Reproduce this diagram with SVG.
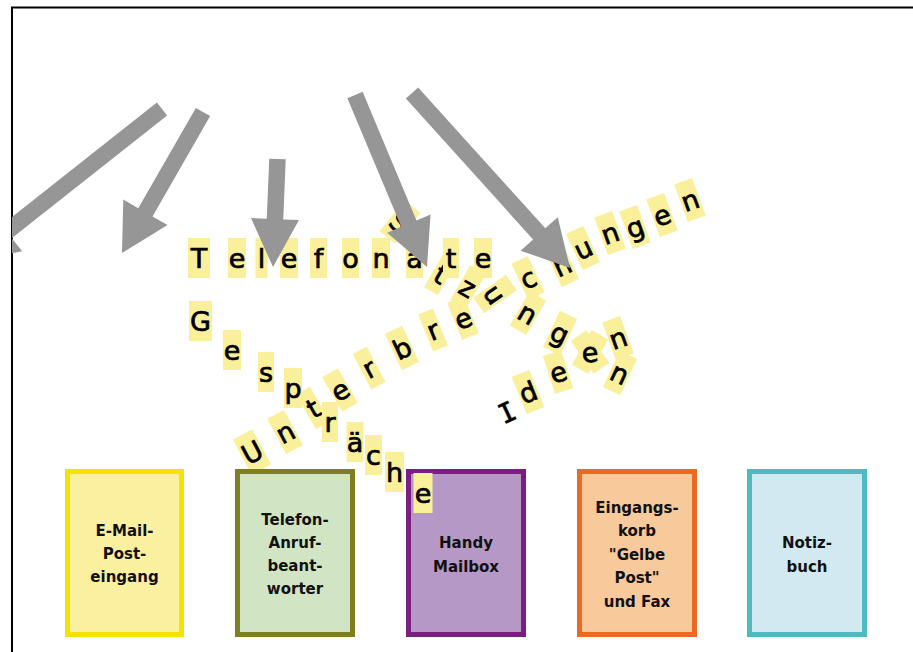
<svg xmlns="http://www.w3.org/2000/svg" width="913" height="652" viewBox="0 0 913 652">
<style>
.tile{fill:#faf09c}
.ch{font-family:"DejaVu Sans",sans-serif;font-size:27px;fill:#000;stroke:#000;stroke-width:0.7;text-anchor:middle}
.arrow{fill:#969696}
.lbl{font-family:"DejaVu Sans",sans-serif;font-weight:bold;font-size:15px;text-anchor:middle;fill:#111}
</style>
<defs>
<clipPath id="frameClip"><rect x="12" y="7" width="901" height="645"/></clipPath>
</defs>
<rect x="0" y="0" width="913" height="652" fill="#fff"/>

<!-- frame -->
<g id="frame" stroke="#000" stroke-width="2" fill="none">
<line x1="11" y1="7.5" x2="913" y2="7.5"/>
<line x1="12" y1="7" x2="12" y2="652"/>
</g>

<!-- word: Unterbrechungen -->
<g id="word-unterbrechungen">
<g transform="translate(252,452) rotate(-28)"><rect class="tile" x="-11" y="-20" width="22" height="40"/><text class="ch" y="10">U</text></g>
<g transform="translate(285,432) rotate(-28)"><rect class="tile" x="-9.5" y="-20" width="19" height="40"/><text class="ch" y="10">n</text></g>
<g transform="translate(313,408) rotate(-30)"><rect class="tile" x="-8" y="-20" width="16" height="40"/><text class="ch" y="10">t</text></g>
<g transform="translate(340,390) rotate(-30)"><rect class="tile" x="-9" y="-20" width="18" height="40"/><text class="ch" y="10">e</text></g>
<g transform="translate(369,368) rotate(-28)"><rect class="tile" x="-8" y="-20" width="16" height="40"/><text class="ch" y="10">r</text></g>
<g transform="translate(402,348) rotate(-25)"><rect class="tile" x="-9.5" y="-20" width="19" height="40"/><text class="ch" y="10">b</text></g>
<g transform="translate(433,330) rotate(-22)"><rect class="tile" x="-8" y="-20" width="16" height="40"/><text class="ch" y="10">r</text></g>
<g transform="translate(463,318) rotate(-22)"><rect class="tile" x="-9" y="-20" width="18" height="40"/><text class="ch" y="10">e</text></g>
<g transform="translate(528,278) rotate(-25)"><rect class="tile" x="-9" y="-20" width="18" height="40"/><text class="ch" y="10">c</text></g>
<g transform="translate(562,265) rotate(-25)"><rect class="tile" x="-9.5" y="-20" width="19" height="40"/><text class="ch" y="10">h</text></g>
<g transform="translate(583,248) rotate(-25)"><rect class="tile" x="-9.5" y="-20" width="19" height="40"/><text class="ch" y="10">u</text></g>
<g transform="translate(610,233) rotate(-20)"><rect class="tile" x="-9.5" y="-20" width="19" height="40"/><text class="ch" y="10">n</text></g>
<g transform="translate(635,227) rotate(-20)"><rect class="tile" x="-9.5" y="-20" width="19" height="40"/><text class="ch" y="10">g</text></g>
<g transform="translate(662,215) rotate(-20)"><rect class="tile" x="-9.5" y="-20" width="19" height="40"/><text class="ch" y="10">e</text></g>
<g transform="translate(690,200) rotate(-20)"><rect class="tile" x="-9.5" y="-20" width="19" height="40"/><text class="ch" y="10">n</text></g>
</g>

<!-- word: Gespräche -->
<g id="word-gespraeche">
<g transform="translate(200.5,321)"><rect class="tile" x="-11.5" y="-20" width="23" height="40"/><text class="ch" y="10">G</text></g>
<g transform="translate(232,350)"><rect class="tile" x="-9" y="-20" width="18" height="40"/><text class="ch" y="10">e</text></g>
<g transform="translate(266,372)"><rect class="tile" x="-8" y="-20" width="16" height="40"/><text class="ch" y="10">s</text></g>
<g transform="translate(293,388)"><rect class="tile" x="-9" y="-20" width="18" height="40"/><text class="ch" y="10">p</text></g>
<g transform="translate(330,422)"><rect class="tile" x="-8" y="-20" width="16" height="40"/><text class="ch" y="10">r</text></g>
<g transform="translate(355,442)"><rect class="tile" x="-8.5" y="-20" width="17" height="40"/><text class="ch" y="10">ä</text></g>
<g transform="translate(373.5,455)"><rect class="tile" x="-8.5" y="-20" width="17" height="40"/><text class="ch" y="10">c</text></g>
<g transform="translate(394.5,472)"><rect class="tile" x="-9.5" y="-20" width="19" height="40"/><text class="ch" y="10">h</text></g>
</g>

<!-- word: Sitzungen -->
<g id="word-sitzungen">
<g transform="translate(400,222) rotate(40)"><rect class="tile" x="-10" y="-20" width="20" height="40"/><text class="ch" y="10">S</text></g>
<g transform="translate(441,274) rotate(30)"><rect class="tile" x="-8" y="-20" width="16" height="40"/><text class="ch" y="10">t</text></g>
<g transform="translate(468,287) rotate(30)"><rect class="tile" x="-9" y="-20" width="18" height="40"/><text class="ch" y="10">z</text></g>
<g transform="translate(495,294) rotate(55)"><rect class="tile" x="-9.5" y="-20" width="19" height="40"/><text class="ch" y="10">u</text></g>
<g transform="translate(528,313) rotate(30)"><rect class="tile" x="-9.5" y="-20" width="19" height="40"/><text class="ch" y="10">n</text></g>
<g transform="translate(560,333) rotate(25)"><rect class="tile" x="-9.5" y="-20" width="19" height="40"/><text class="ch" y="10">g</text></g>
<g transform="translate(590,352) rotate(30)"><rect class="tile" x="-9.5" y="-20" width="19" height="40"/></g>
<g transform="translate(618,338) rotate(-20)"><rect class="tile" x="-9.5" y="-20" width="19" height="40"/><text class="ch" y="10">n</text></g>
</g>

<!-- word: Ideen -->
<g id="word-ideen">
<g transform="translate(507,412) rotate(-25)"><text class="ch" y="10" style="font-family:'DejaVu Sans Mono',monospace">I</text></g>
<g transform="translate(528,392) rotate(-22)"><rect class="tile" x="-9.5" y="-20" width="19" height="40"/><text class="ch" y="10">d</text></g>
<g transform="translate(558,372) rotate(-18)"><rect class="tile" x="-9.5" y="-20" width="19" height="40"/><text class="ch" y="10">e</text></g>
<g transform="translate(590,352) rotate(-35)"><rect class="tile" x="-9.5" y="-20" width="19" height="40"/></g>
<g transform="translate(590,352) rotate(-5)"><text class="ch" y="10">e</text></g>
<g transform="translate(620,373) rotate(25)"><rect class="tile" x="-9.5" y="-20" width="19" height="40"/><text class="ch" y="10">n</text></g>
</g>

<!-- word: Telefonate -->
<g id="word-telefonate">
<g transform="translate(199,258)"><rect class="tile" x="-11" y="-20" width="22" height="40"/><text class="ch" y="10">T</text></g>
<g transform="translate(237,258)"><rect class="tile" x="-9" y="-20" width="18" height="40"/><text class="ch" y="10">e</text></g>
<g transform="translate(261.5,258)"><rect class="tile" x="-6" y="-20" width="12" height="40"/><text class="ch" y="10">l</text></g>
<g transform="translate(289,258)"><rect class="tile" x="-9" y="-20" width="18" height="40"/><text class="ch" y="10">e</text></g>
<g transform="translate(318.5,258)"><rect class="tile" x="-8.5" y="-20" width="17" height="40"/><text class="ch" y="10">f</text></g>
<g transform="translate(350.5,258)"><rect class="tile" x="-8.5" y="-20" width="17" height="40"/><text class="ch" y="10">o</text></g>
<g transform="translate(381,258)"><rect class="tile" x="-9" y="-20" width="18" height="40"/><text class="ch" y="10">n</text></g>
<g transform="translate(414.5,258)"><rect class="tile" x="-8.5" y="-20" width="17" height="40"/><text class="ch" y="10">a</text></g>
<g transform="translate(451,258)"><rect class="tile" x="-8" y="-20" width="16" height="40"/><text class="ch" y="10">t</text></g>
<g transform="translate(483,258)"><rect class="tile" x="-9" y="-20" width="18" height="40"/><text class="ch" y="10">e</text></g>
</g>

<!-- connectors: block arrows -->
<g id="connectors" class="arrow" clip-path="url(#frameClip)">
<polygon points="156.89,102.53 1.59,225.23 -8.8,212.1 -30.2,260.8 22.2,251.3 11.81,238.17 167.11,115.47"/>
<polygon points="195.85,107.89 138.25,208.19 123.3,199.6 122,253 167.5,225 152.55,216.41 210.15,116.11"/>
<polygon points="269.26,158.66 266.76,218.7 251.02,218.04 273,267 298.98,220.04 283.24,219.38 285.74,159.34"/>
<polygon points="347.39,98.18 401.25,226.85 387.19,232.74 427,267 430.53,214.6 416.47,220.49 362.61,91.82"/>
<polygon points="405.88,98.53 533.08,239.43 520.65,250.65 570,268 557.75,217.15 545.32,228.37 418.12,87.47"/>
</g>

<!-- boxes -->
<g id="box-email">
<rect x="67.5" y="471.5" width="114" height="163" fill="#faf0a0" stroke="#f3e300" stroke-width="5"/>
<text class="lbl"><tspan x="124.5" y="536">E-Mail-</tspan><tspan x="124.5" y="559">Post-</tspan><tspan x="124.5" y="582">eingang</tspan></text>
</g>
<g id="box-anrufbeantworter">
<rect x="237.5" y="471.5" width="115" height="163" fill="#d1e5c4" stroke="#7f7f21" stroke-width="5"/>
<text class="lbl"><tspan x="295" y="525">Telefon-</tspan><tspan x="295" y="548">Anruf-</tspan><tspan x="295" y="571">beant-</tspan><tspan x="295" y="594">worter</tspan></text>
</g>
<g id="box-mailbox">
<rect x="408.5" y="471.5" width="115" height="163" fill="#b698c6" stroke="#7a1f80" stroke-width="5"/>
<text class="lbl"><tspan x="466" y="548">Handy</tspan><tspan x="466" y="572">Mailbox</tspan></text>
</g>
<g id="box-eingangskorb">
<rect x="579.5" y="471.5" width="115" height="163" fill="#f8c99b" stroke="#ea6a22" stroke-width="5"/>
<text class="lbl"><tspan x="637" y="513">Eingangs-</tspan><tspan x="637" y="536">korb</tspan><tspan x="637" y="560">"Gelbe</tspan><tspan x="637" y="583">Post"</tspan><tspan x="637" y="607">und Fax</tspan></text>
</g>
<g id="box-notizbuch">
<rect x="749.5" y="471.5" width="115" height="163" fill="#d2e9f1" stroke="#4dbac2" stroke-width="5"/>
<text class="lbl"><tspan x="807" y="548">Notiz-</tspan><tspan x="807" y="572">buch</tspan></text>
</g>

<!-- last "e" of Gespräche, lying over the Mailbox box -->
<g id="word-gespraeche-end" transform="translate(423,493)"><rect class="tile" x="-9.5" y="-20" width="19" height="40"/><text class="ch" y="10">e</text></g>
</svg>
